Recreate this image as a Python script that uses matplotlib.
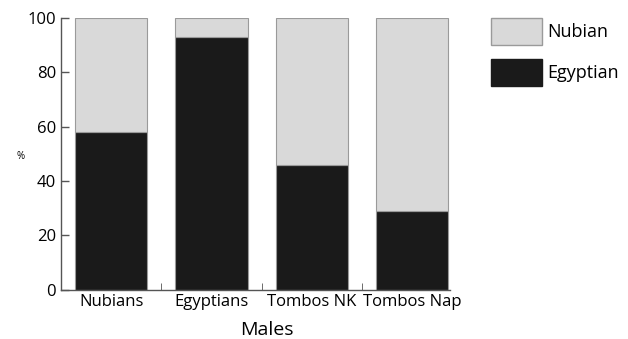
import numpy as np
import matplotlib.pyplot as plt
from matplotlib.patches import Patch

plt.rcParams['font.family'] = ['Open Sans', 'DejaVu Sans']

groups = ['Nubians', 'Egyptians', 'Tombos NK', 'Tombos Nap']
egyptian = [58, 93, 46, 29]
nubian = [100 - v for v in egyptian]

light = '#d9d9d9'
dark = '#1a1a1a'
edge = '#9a9a9a'

fig = plt.figure(figsize=(6.28, 3.39), dpi=100)
ax = fig.add_axes([0.097, 0.145, 0.62, 0.802])

x = np.arange(len(groups))
ax.bar(x, egyptian, width=0.72, color=dark, edgecolor=edge, linewidth=0.8)
ax.bar(x, nubian, width=0.72, bottom=egyptian, color=light, edgecolor=edge, linewidth=0.8)

ax.set_xlim(-0.5, 3.38)
ax.set_ylim(0, 100)
ax.set_yticks(range(0, 101, 20))
ax.tick_params(axis='y', direction='in', length=6, labelsize=12, width=1, color='#555555')
ax.set_xticks(x)
ax.set_xticklabels(groups, fontsize=12)
ax.tick_params(axis='x', length=0, pad=3)
# small inward separators between categories
ax.set_xticks([0.5, 1.5, 2.5], minor=True)
ax.tick_params(axis='x', which='minor', direction='in', length=5, color='#555555')

for s in ['top', 'right']:
    ax.spines[s].set_visible(False)
for s in ['left', 'bottom']:
    ax.spines[s].set_color('#555555')
    ax.spines[s].set_linewidth(1)

ax.set_xlabel('Males', fontsize=14)
ax.xaxis.set_label_coords(0.53, -0.115)
fig.text(0.032, 0.537, '%', fontsize=7, ha='center', va='center')

handles = [Patch(facecolor=light, edgecolor=edge, label='Nubian'),
           Patch(facecolor=dark, edgecolor=dark, label='Egyptian')]
fig.legend(handles=handles, loc='upper left', bbox_to_anchor=(0.782, 0.947),
           frameon=False, fontsize=13, handlelength=2.8, handleheight=1.9,
           labelspacing=0.8, handletextpad=0.33, borderaxespad=0, borderpad=0)

fig.savefig('out.png', dpi=100)
